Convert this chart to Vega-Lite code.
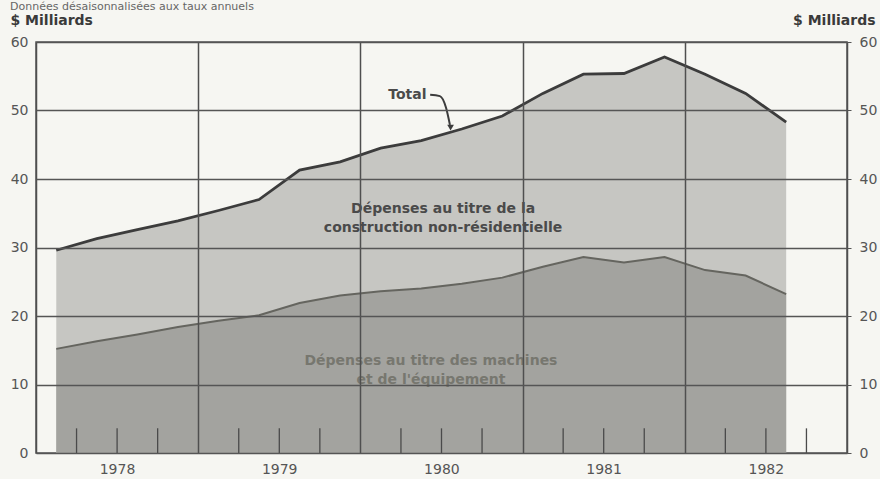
{
  "$schema": "https://vega.github.io/schema/vega-lite/v6.json",
  "width": 811,
  "height": 411,
  "autosize": "none",
  "padding": {"left": 36, "top": 42, "right": 33, "bottom": 26},
  "background": "#f6f6f2",
  "title": {
    "text": "Données désaisonnalisées aux taux annuels",
    "anchor": "start",
    "frame": "group",
    "font": "DejaVu Sans",
    "fontSize": 11,
    "fontWeight": "normal",
    "color": "#666666",
    "offset": 1,
    "dx": -26
  },
  "config": {
    "view": {"stroke": "#555555", "strokeWidth": 1.5},
    "axis": {
      "labelFont": "DejaVu Sans",
      "labelFontSize": 14,
      "labelColor": "#555555",
      "titleFont": "DejaVu Sans",
      "titleFontSize": 14,
      "titleFontWeight": "bold",
      "titleColor": "#3a3a3a"
    }
  },
  "datasets": {
    "series": [
      {"trimestre": "1978-T1", "t": 1978.125, "total": 29.6, "machines": 15.2},
      {"trimestre": "1978-T2", "t": 1978.375, "total": 31.3, "machines": 16.3},
      {"trimestre": "1978-T3", "t": 1978.625, "total": 32.6, "machines": 17.3},
      {"trimestre": "1978-T4", "t": 1978.875, "total": 33.9, "machines": 18.4},
      {"trimestre": "1979-T1", "t": 1979.125, "total": 35.4, "machines": 19.3},
      {"trimestre": "1979-T2", "t": 1979.375, "total": 37.0, "machines": 20.1},
      {"trimestre": "1979-T3", "t": 1979.625, "total": 41.3, "machines": 21.9},
      {"trimestre": "1979-T4", "t": 1979.875, "total": 42.5, "machines": 23.0},
      {"trimestre": "1980-T1", "t": 1980.125, "total": 44.5, "machines": 23.6},
      {"trimestre": "1980-T2", "t": 1980.375, "total": 45.6, "machines": 24.0},
      {"trimestre": "1980-T3", "t": 1980.625, "total": 47.3, "machines": 24.7},
      {"trimestre": "1980-T4", "t": 1980.875, "total": 49.2, "machines": 25.6},
      {"trimestre": "1981-T1", "t": 1981.125, "total": 52.5, "machines": 27.2},
      {"trimestre": "1981-T2", "t": 1981.375, "total": 55.3, "machines": 28.6},
      {"trimestre": "1981-T3", "t": 1981.625, "total": 55.4, "machines": 27.8},
      {"trimestre": "1981-T4", "t": 1981.875, "total": 57.8, "machines": 28.6},
      {"trimestre": "1982-T1", "t": 1982.125, "total": 55.3, "machines": 26.7},
      {"trimestre": "1982-T2", "t": 1982.375, "total": 52.5, "machines": 25.9},
      {"trimestre": "1982-T3", "t": 1982.625, "total": 48.3, "machines": 23.2}
    ],
    "quarterTicks": [
      {"t": 1978.25, "lo": 0, "hi": 3.6}, {"t": 1978.5, "lo": 0, "hi": 3.6}, {"t": 1978.75, "lo": 0, "hi": 3.6},
      {"t": 1979.25, "lo": 0, "hi": 3.6}, {"t": 1979.5, "lo": 0, "hi": 3.6}, {"t": 1979.75, "lo": 0, "hi": 3.6},
      {"t": 1980.25, "lo": 0, "hi": 3.6}, {"t": 1980.5, "lo": 0, "hi": 3.6}, {"t": 1980.75, "lo": 0, "hi": 3.6},
      {"t": 1981.25, "lo": 0, "hi": 3.6}, {"t": 1981.5, "lo": 0, "hi": 3.6}, {"t": 1981.75, "lo": 0, "hi": 3.6},
      {"t": 1982.25, "lo": 0, "hi": 3.6}, {"t": 1982.5, "lo": 0, "hi": 3.6}, {"t": 1982.75, "lo": 0, "hi": 3.6}
    ],
    "upperLabels": [
      {"t": 1980.29, "v": 52.2, "label": "Total"},
      {"t": 1980.51, "v": 35.6, "label": "Dépenses au titre de la"},
      {"t": 1980.51, "v": 32.8, "label": "construction non-résidentielle"}
    ],
    "lowerLabels": [
      {"t": 1980.435, "v": 13.4, "label": "Dépenses au titre des machines"},
      {"t": 1980.435, "v": 10.6, "label": "et de l'équipement"}
    ],
    "arrow": [
      {"t": 1980.43, "v": 52.3, "o": 1},
      {"t": 1980.49, "v": 52.1, "o": 2},
      {"t": 1980.528, "v": 50.4, "o": 3},
      {"t": 1980.552, "v": 47.9, "o": 4}
    ],
    "arrowHead": [
      {"t": 1980.556, "v": 47.5}
    ]
  },
  "resolve": {"scale": {"y": "independent"}},
  "layer": [
    {
      "data": {"name": "series"},
      "mark": {"type": "area", "color": "#c6c6c2", "opacity": 1},
      "encoding": {
        "x": {
          "field": "t", "type": "quantitative",
          "scale": {"domain": [1978, 1983], "nice": false, "zero": false},
          "axis": {
            "values": [1978, 1979, 1980, 1981, 1982, 1983],
            "grid": true, "gridColor": "#4f4f4f", "gridWidth": 1.5,
            "ticks": false, "domain": false,
            "labelOffset": 81, "labelPadding": 9, "labelFlush": false, "labelOverlap": false,
            "labelExpr": "datum.value == 1983 ? '' : datum.label",
            "format": "d", "title": null, "zindex": 1
          }
        },
        "y": {
          "field": "total", "type": "quantitative",
          "scale": {"domain": [0, 60], "nice": false},
          "axis": {
            "values": [0, 10, 20, 30, 40, 50, 60],
            "grid": true, "gridColor": "#555555", "gridWidth": 1.4,
            "ticks": false, "domain": false, "labelPadding": 8,
            "title": "$ Milliards", "titleAngle": 0, "titleAlign": "left",
            "titleBaseline": "middle", "titleX": -26, "titleY": -22,
            "zindex": 1
          }
        }
      }
    },
    {
      "data": {"name": "series"},
      "mark": {"type": "area", "color": "#a3a39f", "opacity": 1},
      "encoding": {
        "x": {"field": "t", "type": "quantitative"},
        "y": {
          "field": "machines", "type": "quantitative",
          "scale": {"domain": [0, 60], "nice": false},
          "axis": {
            "orient": "right",
            "values": [0, 10, 20, 30, 40, 50, 60],
            "grid": false, "ticks": true, "tickSize": 4, "tickColor": "#555555",
            "domain": false, "labelPadding": 8,
            "title": "$ Milliards", "titleAngle": 0, "titleAlign": "right",
            "titleBaseline": "middle", "titleX": 28, "titleY": -22
          }
        }
      }
    },
    {
      "data": {"name": "series"},
      "mark": {"type": "line", "color": "#3c3c3c", "strokeWidth": 2.8},
      "encoding": {
        "x": {"field": "t", "type": "quantitative"},
        "y": {"field": "total", "type": "quantitative", "scale": {"domain": [0, 60], "nice": false}, "axis": null}
      }
    },
    {
      "data": {"name": "series"},
      "mark": {"type": "line", "color": "#65655f", "strokeWidth": 2},
      "encoding": {
        "x": {"field": "t", "type": "quantitative"},
        "y": {"field": "machines", "type": "quantitative", "scale": {"domain": [0, 60], "nice": false}, "axis": null}
      }
    },
    {
      "data": {"name": "quarterTicks"},
      "mark": {"type": "rule", "color": "#4a4a4a", "strokeWidth": 1.3},
      "encoding": {
        "x": {"field": "t", "type": "quantitative"},
        "y": {"field": "lo", "type": "quantitative", "scale": {"domain": [0, 60], "nice": false}, "axis": null},
        "y2": {"field": "hi"}
      }
    },
    {
      "data": {"name": "upperLabels"},
      "mark": {"type": "text", "font": "DejaVu Sans", "fontSize": 14, "fontWeight": "bold", "color": "#4a4a4a", "align": "center", "baseline": "middle"},
      "encoding": {
        "x": {"field": "t", "type": "quantitative"},
        "y": {"field": "v", "type": "quantitative", "scale": {"domain": [0, 60], "nice": false}, "axis": null},
        "text": {"field": "label"}
      }
    },
    {
      "data": {"name": "lowerLabels"},
      "mark": {"type": "text", "font": "DejaVu Sans", "fontSize": 14, "fontWeight": "bold", "color": "#77776f", "align": "center", "baseline": "middle"},
      "encoding": {
        "x": {"field": "t", "type": "quantitative"},
        "y": {"field": "v", "type": "quantitative", "scale": {"domain": [0, 60], "nice": false}, "axis": null},
        "text": {"field": "label"}
      }
    },
    {
      "data": {"name": "arrow"},
      "mark": {"type": "line", "color": "#3c3c3c", "strokeWidth": 2, "interpolate": "monotone"},
      "encoding": {
        "x": {"field": "t", "type": "quantitative"},
        "y": {"field": "v", "type": "quantitative", "scale": {"domain": [0, 60], "nice": false}, "axis": null},
        "order": {"field": "o"}
      }
    },
    {
      "data": {"name": "arrowHead"},
      "mark": {"type": "point", "shape": "triangle-down", "filled": true, "color": "#3c3c3c", "size": 45, "opacity": 1},
      "encoding": {
        "x": {"field": "t", "type": "quantitative"},
        "y": {"field": "v", "type": "quantitative", "scale": {"domain": [0, 60], "nice": false}, "axis": null}
      }
    }
  ]
}
